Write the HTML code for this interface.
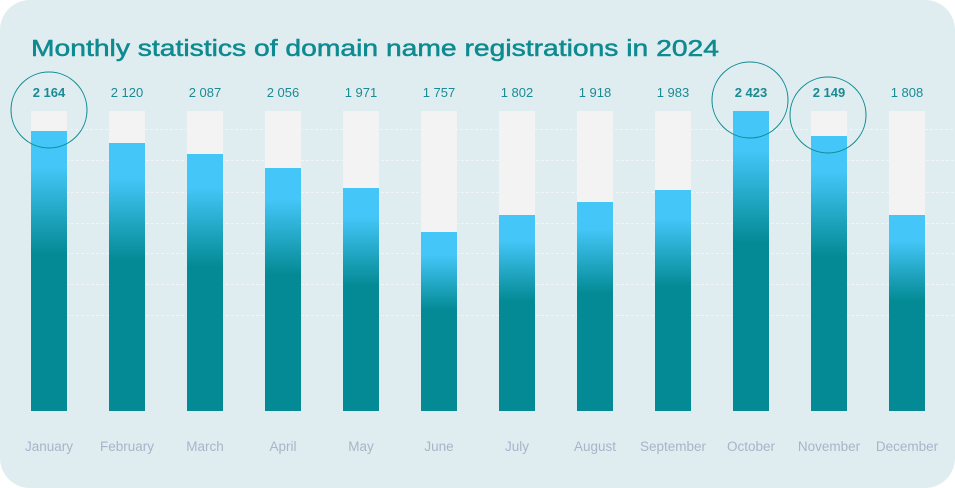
<!DOCTYPE html>
<html><head><meta charset="utf-8"><style>
html,body{margin:0;padding:0;background:#fff;width:955px;height:488px;overflow:hidden}
svg{display:block}
text{font-family:"Liberation Sans",sans-serif}
</style></head><body>
<svg width="955" height="488" xmlns="http://www.w3.org/2000/svg">
<defs>
<linearGradient id="g" x1="0" y1="0" x2="0" y2="1">
<stop offset="0" stop-color="#44c6f8"/>
<stop offset="0.13" stop-color="#44c6f8"/>
<stop offset="0.44" stop-color="#038a94"/>
<stop offset="1" stop-color="#038a94"/>
</linearGradient>
</defs>
<rect x="0" y="0" width="955" height="488" rx="30" fill="#dfedf0"/>
<text x="31" y="56" font-size="23" fill="#0e8a91" stroke="#0e8a91" stroke-width="0.5" textLength="688" lengthAdjust="spacingAndGlyphs">Monthly statistics of domain name registrations in 2024</text>
<g stroke="#f4f6f7" stroke-width="1" stroke-dasharray="3,2" opacity="0.9">
<line x1="70" x2="955" y1="129.5" y2="129.5"/>
<line x1="31" x2="955" y1="160.5" y2="160.5"/>
<line x1="31" x2="955" y1="192.5" y2="192.5"/>
<line x1="31" x2="955" y1="223.5" y2="223.5"/>
<line x1="31" x2="955" y1="253.5" y2="253.5"/>
<line x1="31" x2="955" y1="284.5" y2="284.5"/>
<line x1="31" x2="955" y1="315.5" y2="315.5"/>
</g>
<g id="bars"></g>
<g fill="none" stroke="#0e8a91" stroke-width="1">
<circle cx="49" cy="110" r="38"/>
<circle cx="750" cy="100" r="38"/>
<circle cx="828" cy="115" r="38"/>
</g>
</svg>
<script>
var tops=[131,143,154,168,188,232,215,202,190,111,136,215];
var vals=["2 164","2 120","2 087","2 056","1 971","1 757","1 802","1 918","1 983","2 423","2 149","1 808"];
var months=["January","February","March","April","May","June","July","August","September","October","November","December"];
var bold=[0,9,10];
var ns="http://www.w3.org/2000/svg",g=document.getElementById("bars");
function el(n,a,p){var e=document.createElementNS(ns,n);for(var k in a)e.setAttribute(k,a[k]);(p||g).appendChild(e);return e;}
for(var i=0;i<12;i++){
 var x=31+i*78,t=tops[i],h=411-t;
 el("rect",{x:x,y:111,width:36,height:300,fill:"#f3f3f3"});
 el("rect",{x:x,y:t,width:36,height:h,fill:"url(#g)"});
 var b=bold.indexOf(i)>=0;
 var tx=el("text",{x:x+18,y:97,"text-anchor":"middle","font-size":"13",fill:"#1a8b94","font-weight":b?"bold":"normal"});
 tx.textContent=vals[i];
 var m=el("text",{x:x+18,y:451,"text-anchor":"middle","font-size":"13.5",fill:"#abb3c9"});
 m.textContent=months[i];
}
</script>
</body></html>
